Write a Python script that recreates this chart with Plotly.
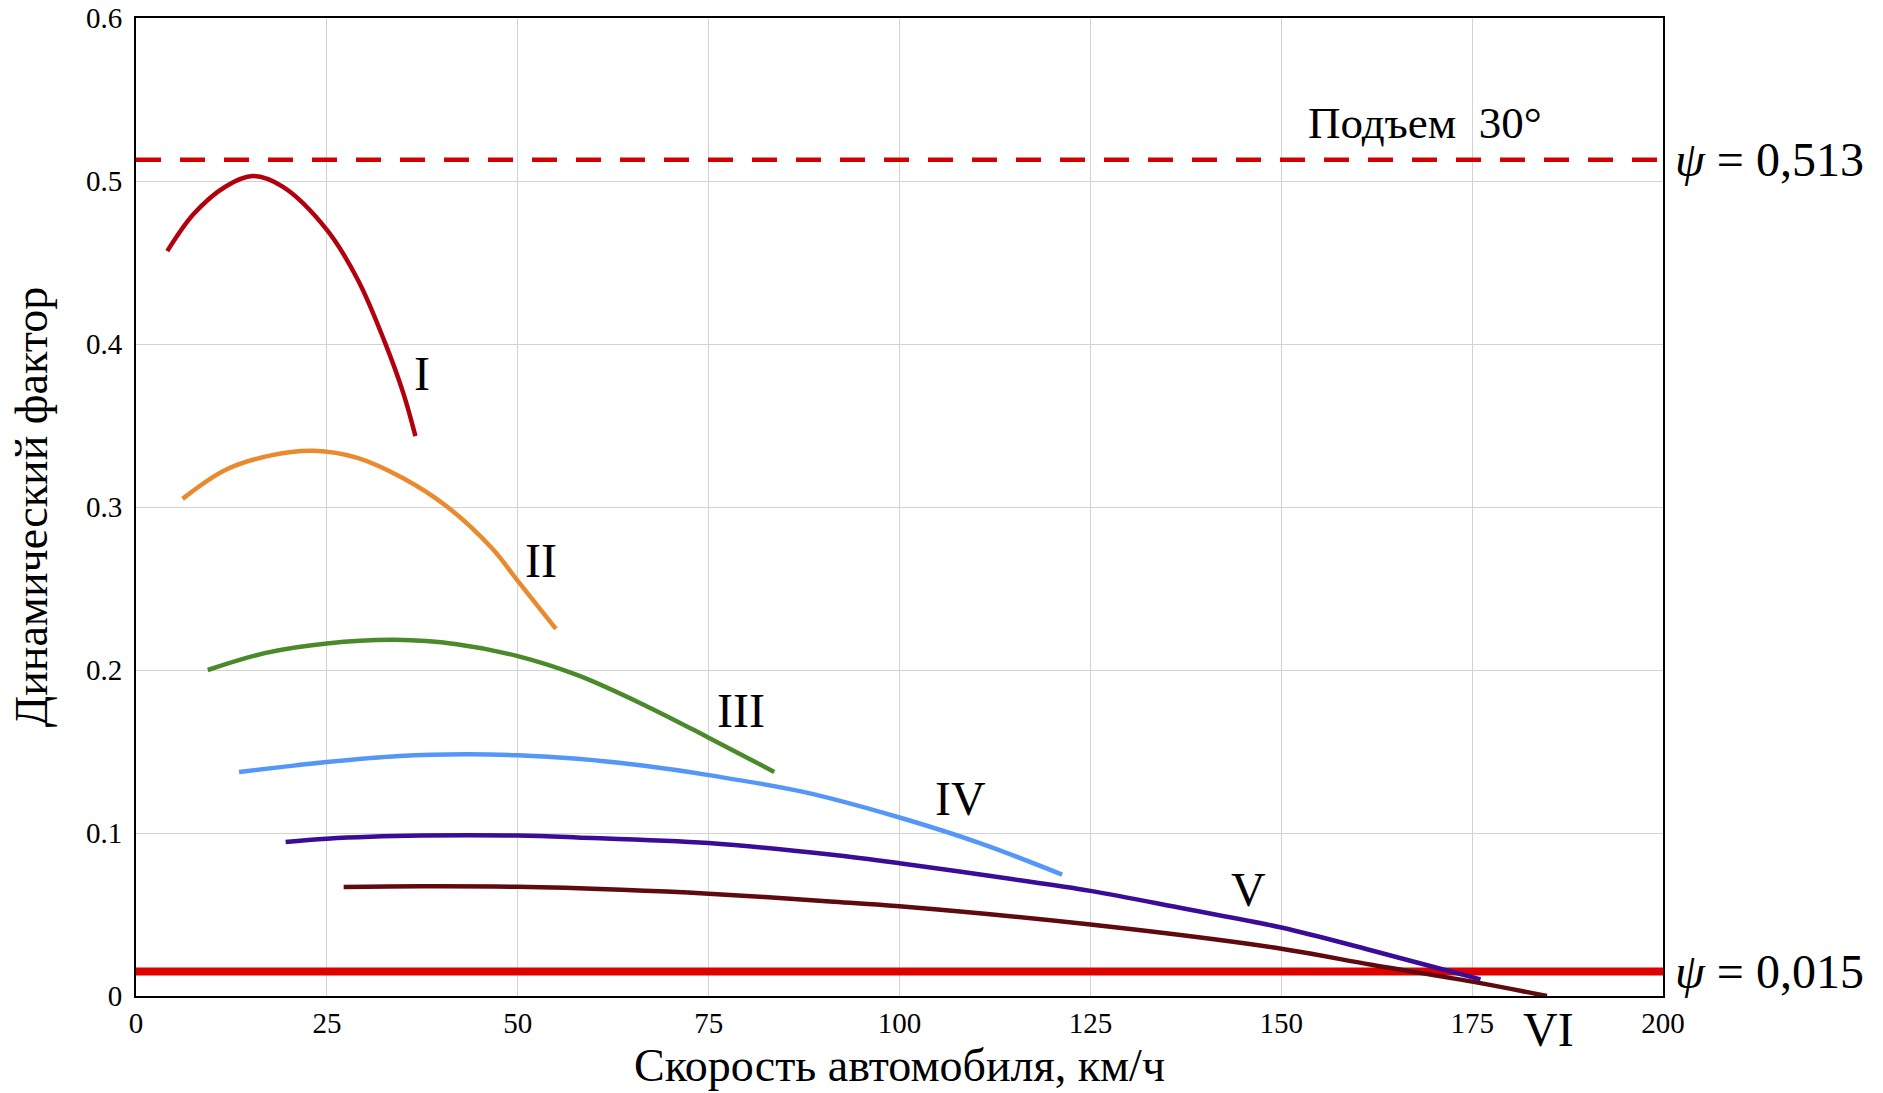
import plotly.graph_objects as go

# ---- data ----
gear_names = ["I", "II", "III", "IV", "V", "VI"]

speed_I = [4.1, 7.6, 11.7, 15.3, 19.2, 25.0, 29.1, 32.6, 35.0, 36.6]
dyn_I = [0.457, 0.480, 0.4965, 0.503, 0.4965, 0.470, 0.439, 0.401, 0.370, 0.3435]

speed_II = [6.1, 11.7, 17.5, 23.3, 29.1, 35.0, 40.8, 46.6, 50.0, 55.0]
dyn_II = [0.305, 0.3227, 0.3315, 0.3345, 0.330, 0.3176, 0.300, 0.2748, 0.2547, 0.2252]

speed_III = [9.4, 17.0, 25.0, 34.0, 42.0, 50.0, 58.0, 67.0, 75.0, 83.6]
dyn_III = [0.200, 0.2105, 0.2163, 0.2185, 0.2158, 0.2085, 0.1965, 0.1775, 0.1585, 0.1375]

speed_IV = [13.5, 25.0, 34.5, 43.2, 50.0, 57.8, 66.6, 75.0, 87.4, 100.0, 110.7, 121.3]
dyn_IV = [0.1374, 0.1435, 0.1472, 0.1483, 0.1477, 0.1455, 0.1412, 0.1355, 0.1252, 0.1095, 0.0935, 0.0745]

speed_V = [19.6, 25.0, 37.4, 50.0, 57.8, 75.0, 90.9, 100.0, 114.0, 125.0, 137.4, 150.0, 161.0, 169.0, 176.1]
dyn_V = [0.0945, 0.0965, 0.0984, 0.0984, 0.0973, 0.0938, 0.0868, 0.0815, 0.0722, 0.0645, 0.0535, 0.042, 0.029, 0.019, 0.0102]

speed_VI = [27.2, 37.4, 50.0, 63.6, 75.0, 90.9, 100.0, 125.0, 150.0, 162.0, 175.0, 184.8]
dyn_VI = [0.0669, 0.0673, 0.067, 0.0652, 0.0628, 0.058, 0.055, 0.0438, 0.029, 0.019, 0.0088, 0.0]

psi_climb = 0.513
psi_road = 0.015

label_x = [37.4, 53.1, 79.2, 108.0, 145.7, 185.0]
label_y = [0.382, 0.267, 0.175, 0.121, 0.0656, 0.0]
label_yshift = [0, 0, 0, 0, 0, -33]

x_ticks = [0, 25, 50, 75, 100, 125, 150, 175, 200]
y_ticks = [0, 0.1, 0.2, 0.3, 0.4, 0.5, 0.6]
y_tick_text = ["0", "0.1", "0.2", "0.3", "0.4", "0.5", "0.6"]

colors = ["#B3000F", "#E98A2E", "#4A8A2A", "#5597F7", "#3A0C98", "#5E0A0E"]

FONT = "Liberation Serif, Times New Roman, serif"

fig = go.Figure()

# reference lines (drawn first, curves over them)
fig.add_trace(go.Scatter(x=[x_ticks[0], x_ticks[-1]], y=[psi_road, psi_road], mode="lines",
                         line=dict(color="#E00000", width=8), showlegend=False, hoverinfo="skip"))
fig.add_trace(go.Scatter(x=[x_ticks[0], x_ticks[-1]], y=[psi_climb, psi_climb], mode="lines",
                         line=dict(color="#D40000", width=4.5, dash="25px,19px"), showlegend=False,
                         hoverinfo="skip"))

series = [(speed_I, dyn_I), (speed_II, dyn_II), (speed_III, dyn_III),
          (speed_IV, dyn_IV), (speed_V, dyn_V), (speed_VI, dyn_VI)]
for (xs, ys), c, n in zip(series, colors, gear_names):
    fig.add_trace(go.Scatter(x=xs, y=ys, mode="lines", name=n,
                             line=dict(color=c, width=4.5, shape="spline", smoothing=1.0),
                             showlegend=False))

for n, lx, ly, ys in zip(gear_names, label_x, label_y, label_yshift):
    fig.add_annotation(x=lx, y=ly, yshift=ys, text=n, showarrow=False,
                       font=dict(family=FONT, size=48, color="black"))

fig.add_annotation(x=168.8, y=0.5357, text="Подъем  30°", showarrow=False,
                   font=dict(family=FONT, size=45, color="black"))
fig.add_annotation(x=200, y=psi_climb, xanchor="left", xshift=10, text="<i>ψ</i> = 0,513",
                   showarrow=False, font=dict(family=FONT, size=48, color="black"))
fig.add_annotation(x=200, y=psi_road, xanchor="left", xshift=10, text="<i>ψ</i> = 0,015",
                   showarrow=False, font=dict(family=FONT, size=48, color="black"))

fig.update_layout(
    width=1883, height=1093,
    margin=dict(l=136, r=220, t=18, b=97),
    paper_bgcolor="white", plot_bgcolor="white",
    font=dict(family=FONT, color="black"),
    xaxis=dict(range=[0, 200], tickvals=x_ticks, showgrid=True, gridcolor="#D3D3D3", gridwidth=1,
               showline=True, linecolor="black", linewidth=2, mirror=True, zeroline=False,
               ticks="", tickfont=dict(family=FONT, size=29), automargin=False,
               title=dict(text="Скорость автомобиля, км/ч", font=dict(family=FONT, size=46), standoff=11)),
    yaxis=dict(range=[0, 0.6], tickvals=y_ticks, ticktext=y_tick_text, showgrid=True,
               gridcolor="#D3D3D3", gridwidth=1, automargin=False,
               showline=True, linecolor="black", linewidth=2, mirror=True, zeroline=False,
               ticks="", tickfont=dict(family=FONT, size=29), ticklabelstandoff=6,
               title=dict(text="Динамический фактор", font=dict(family=FONT, size=46), standoff=24)),
)

fig.write_html("out.html", config={"displayModeBar": False},
               post_script="document.body.style.margin='0';document.body.style.overflow='hidden';")
